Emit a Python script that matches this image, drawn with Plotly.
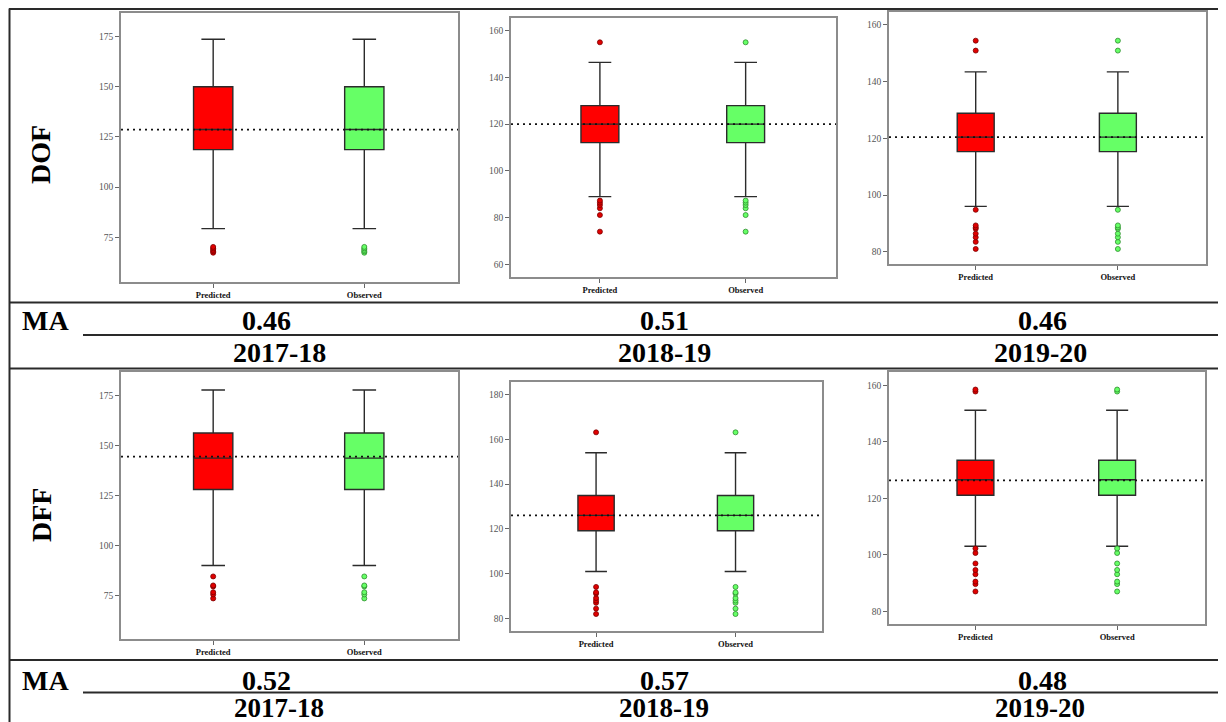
import plotly.graph_objects as go

# The page places the figure 8px from the top-left corner of the window,
# so the figure is sized and positioned to fill the remaining area.
OFF = 8
W, H = 1226 - OFF, 722 - OFF

# ---------------- data ----------------
years = ["2017-18", "2018-19", "2019-20"]
indices = ["DOF", "DFF"]
categories = ["Predicted", "Observed"]
ma_dof = [0.46, 0.51, 0.46]
ma_dff = [0.52, 0.57, 0.48]

# box stats: [lower whisker, Q1, median, Q3, upper whisker]
dof_1718_box = [79.3, 118.7, 128.7, 150.0, 173.7]
dof_1819_box = [89.0, 112.1, 120.0, 127.9, 146.4]
dof_1920_box = [96.0, 115.3, 120.4, 128.8, 143.4]
dff_1718_box = [90.0, 128.0, 143.7, 156.3, 177.8]
dff_1819_box = [100.9, 119.1, 126.0, 134.9, 154.0]
dff_1920_box = [103.1, 121.1, 126.6, 133.5, 151.2]

dof_1718_out = [67.3, 68.0, 68.7, 69.5, 70.2]
dof_1819_out = [74.0, 81.1, 84.0, 85.4, 86.4, 87.3, 155.0]
dof_1920_out = [81.0, 83.5, 85.1, 86.4, 88.1, 88.6, 89.3, 94.8, 150.9, 154.4]
dff_1718_out = [73.5, 75.5, 76.6, 79.5, 80.0, 84.5]
dff_1819_out = [81.9, 84.3, 86.9, 87.9, 89.0, 91.0, 91.6, 94.0, 163.1]
dff_1920_out = [87.1, 89.7, 90.6, 93.2, 94.7, 97.0, 100.7, 102.3, 157.8, 158.5]

# dotted reference (mean) lines
dof_means = [128.7, 120.0, 120.4]
dff_means = [144.5, 126.0, 126.4]

# y-axis settings per panel
dof_yranges = [[52.7, 186.8], [54.6, 165.4], [75.7, 164.5]]
dff_yranges = [[53.2, 186.8], [74.3, 185.6], [75.6, 164.7]]
dof_dticks = [25, 20, 20]
dff_dticks = [25, 20, 20]

# ---------------- layout helpers (window pixels -> paper) ----------------
def px_x(p):
    return (p - OFF) / W

def px_y(p):
    return 1 - (p - OFF) / H

# panel rectangles in window pixels: (left, right, top, bottom)
panel_px = [
    (121, 458, 13, 282), (511, 836, 18, 277), (889, 1206, 12, 264),
    (121, 458, 372, 639), (511, 822, 382, 631), (889, 1205, 372, 624),
]

boxes = [dof_1718_box, dof_1819_box, dof_1920_box, dff_1718_box, dff_1819_box, dff_1920_box]
outs = [dof_1718_out, dof_1819_out, dof_1920_out, dff_1718_out, dff_1819_out, dff_1920_out]
means = dof_means + dff_means
yranges = dof_yranges + dff_yranges
dticks = dof_dticks + dff_dticks

fills = ["#FF0000", "#66FF66"]
pt_fill = ["#E00000", "#66FF66"]
pt_edge = ["#7A0000", "#2E8B2E"]

fig = go.Figure()
shapes = []
layout_axes = {}

for i in range(6):
    n = i + 1
    xa = "x" if n == 1 else f"x{n}"
    ya = "y" if n == 1 else f"y{n}"
    lw, q1, med, q3, uw = boxes[i]
    for c in range(2):
        fig.add_trace(go.Box(
            x=[c], q1=[q1], median=[med], q3=[q3], lowerfence=[lw], upperfence=[uw],
            width=0.26, whiskerwidth=0.6, boxpoints=False,
            fillcolor=fills[c], line=dict(color="#2b2b2b", width=1.4),
            xaxis=xa, yaxis=ya, showlegend=False, hoverinfo="skip",
        ))
        fig.add_trace(go.Scatter(
            x=[c] * len(outs[i]), y=outs[i], mode="markers",
            marker=dict(size=5, color=pt_fill[c], line=dict(color=pt_edge[c], width=0.8)),
            xaxis=xa, yaxis=ya, showlegend=False, hoverinfo="skip",
        ))
    shapes.append(dict(type="line", xref=f"{xa} domain", yref=ya, x0=0, x1=1,
                       y0=means[i], y1=means[i],
                       line=dict(color="#111", width=1.7, dash="2px,4px")))
    l, r, t, b = panel_px[i]
    axkey_x = "xaxis" if n == 1 else f"xaxis{n}"
    axkey_y = "yaxis" if n == 1 else f"yaxis{n}"
    layout_axes[axkey_x] = dict(
        domain=[px_x(l), px_x(r)], anchor=ya, range=[-0.61, 1.62],
        tickvals=[0, 1], ticktext=[f"<b>{c}</b>" for c in categories],
        ticks="outside", ticklen=4, tickcolor="#666",
        tickfont=dict(family="Liberation Serif", size=8.5, color="#111"),
        showgrid=False, zeroline=False, showline=True, mirror=True,
        linecolor="#8c8c8c", linewidth=1.5, fixedrange=True,
    )
    layout_axes[axkey_y] = dict(
        domain=[px_y(b), px_y(t)], anchor=xa, range=yranges[i], dtick=dticks[i],
        ticks="outside", ticklen=4, tickcolor="#666",
        tickfont=dict(family="Liberation Serif", size=9.5, color="#555"),
        showgrid=False, zeroline=False, showline=True, mirror=True,
        linecolor="#8c8c8c", linewidth=1.5, fixedrange=True,
    )

# ---------------- table lines ----------------
LC = "#2a2a2a"

def hline(y, x0=9, x1=1222):
    shapes.append(dict(type="line", xref="paper", yref="paper",
                       x0=px_x(x0), x1=px_x(x1), y0=px_y(y), y1=px_y(y),
                       line=dict(color=LC, width=2)))

def vline(x, y0=8.5, y1=722):
    shapes.append(dict(type="line", xref="paper", yref="paper",
                       x0=px_x(x), x1=px_x(x), y0=px_y(y0), y1=px_y(y1),
                       line=dict(color=LC, width=2)))

hline(9)
hline(302.5)
hline(335, x0=83)
hline(368.5)
hline(660)
hline(692.5, x0=83)
vline(9.5)
vline(1222)

# ---------------- table text ----------------
annots = []
FONT = "Liberation Serif"

def txt(s, x, y, size=28, angle=0):
    annots.append(dict(text=f"<b>{s}</b>", xref="paper", yref="paper",
                       x=px_x(x), y=px_y(y), xanchor="center", yanchor="middle",
                       showarrow=False, textangle=angle,
                       font=dict(family=FONT, size=size, color="#000")))

txt(indices[0], 41, 155, angle=-90)
txt(indices[1], 41, 515, angle=-90)
txt("MA", 45, 320)
txt("MA", 45, 680)

col_x_ma = [266, 665, 1042]
col_x_yr = [279, 664, 1040]
for j in range(3):
    txt(f"{ma_dof[j]:.2f}", col_x_ma[j], 320)
    txt(years[j], col_x_yr[j], 352)
    txt(f"{ma_dff[j]:.2f}", col_x_ma[j], 680)
    txt(years[j], col_x_yr[j], 708, size=27)

fig.update_layout(
    width=W, height=H, margin=dict(l=0, r=0, t=0, b=0),
    paper_bgcolor="white", plot_bgcolor="white",
    shapes=shapes, annotations=annots, showlegend=False,
    **layout_axes,
)

fig.write_html("out.html", config={"displayModeBar": False})
